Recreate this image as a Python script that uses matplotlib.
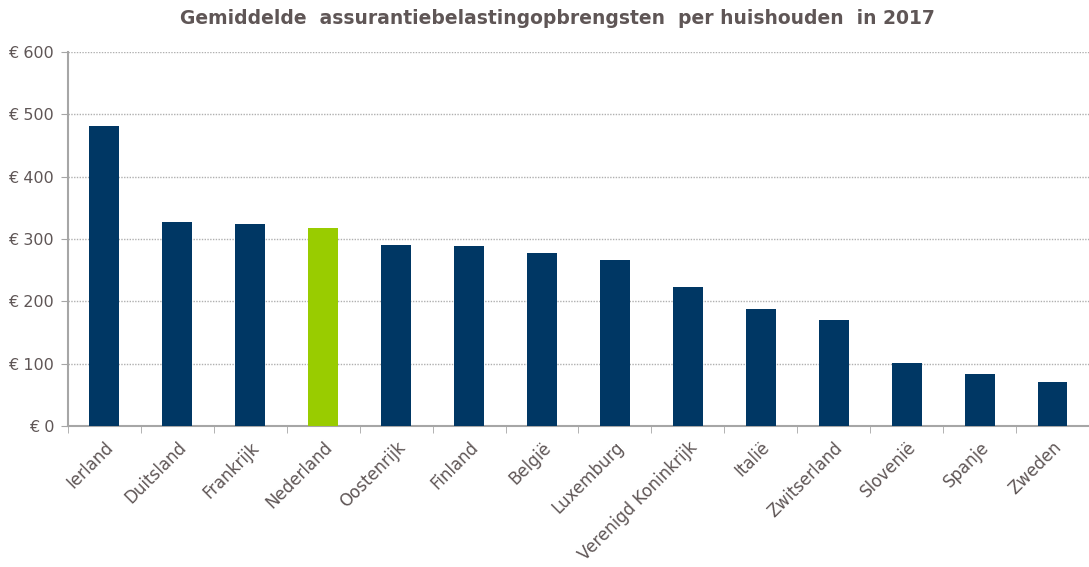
import matplotlib.pyplot as plt
import numpy as np

countries = ["Ierland", "Duitsland", "Frankrijk", "Nederland", "Oostenrijk",
             "Finland", "België", "Luxemburg", "Verenigd Koninkrijk", "Italië",
             "Zwitserland", "Slovenië", "Spanje", "Zweden"]
values = [481, 327, 324, 318, 290, 289, 278, 266, 223, 188, 170, 101, 83, 71]
highlight = "Nederland"

navy = "#003764"
green = "#99cc00"
txt = "#5f5656"
axc = "#a6a6a6"

colors = [green if c == highlight else navy for c in countries]
x = np.arange(len(countries))

fig = plt.figure(figsize=(10.89, 5.67), dpi=100)
ax = fig.add_axes([0.0624, 0.2487, 0.9376, 0.6596])

ax.bar(x, values, width=0.41, color=colors, zorder=3)
ax.set_xlim(-0.5, len(countries) - 0.5)
ax.set_ylim(0, 600)
ax.set_yticks(range(0, 601, 100))
ax.set_yticklabels([f"€ {v}" for v in range(0, 601, 100)])
ax.yaxis.grid(True, linestyle=(0, (1, 1)), color="#b0b0b0", linewidth=1, zorder=0)

ax.set_xticks(x)
ax.set_xticklabels(countries, rotation=45, ha="right", rotation_mode="anchor")
ax.set_xticks(np.arange(-0.5, len(countries), 1), minor=True)
ax.tick_params(axis="x", which="major", length=0, pad=9, colors=txt, labelsize=12)
ax.tick_params(axis="x", which="minor", length=5, color=axc)
ax.tick_params(axis="y", length=5, color=axc, labelcolor=txt, labelsize=11.5, pad=5)

for s in ["top", "right"]:
    ax.spines[s].set_visible(False)
ax.spines["left"].set_color(axc)
ax.spines["bottom"].set_color(axc)
ax.spines["left"].set_linewidth(1.5)
ax.spines["bottom"].set_linewidth(1.5)

fig.text(0.512, 0.968, "Gemiddelde  assurantiebelastingopbrengsten  per huishouden  in 2017",
         ha="center", va="center", fontsize=13.5, fontweight="bold", color=txt)

fig.savefig("out.png", dpi=100)
